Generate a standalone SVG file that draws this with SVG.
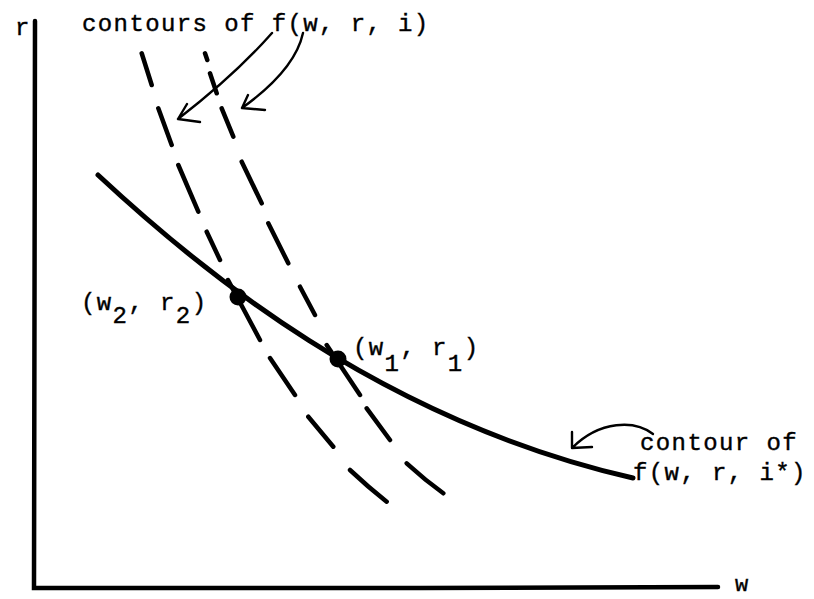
<svg xmlns="http://www.w3.org/2000/svg" width="814" height="599" viewBox="0 0 814 599">
<style>
.t{font-family:"Liberation Mono","Courier New",monospace;font-size:24px;letter-spacing:1.4px;fill:#000;stroke:#000;stroke-width:0.4}
.ax{fill:none;stroke:#000;stroke-width:4.5;stroke-linecap:round}
.dash{fill:none;stroke:#000;stroke-width:4.5;stroke-linecap:round}
.solid{fill:none;stroke:#000;stroke-width:5;stroke-linecap:round}
.thin{fill:none;stroke:#000;stroke-width:2.4;stroke-linecap:round;stroke-linejoin:round}
</style>
<rect width="814" height="599" fill="#fff"/>
<g id="axes">
<path class="ax" d="M35,21 L34,588 L420,588 L718,587"/>
<text class="t" x="15" y="35">r</text>
<text class="t" x="735" y="591" style="font-size:22px">w</text>
</g>
<g id="connectors">
<path class="dash" d="M141.7,53.3 L151.7,85 M158.3,108.3 L171.7,145 M178.3,165 L198.3,211.7 M206.7,231.7 L220,260 M228,280 L260,340 M270,358 L295,395 M308.3,416.7 L333.3,446.7 M350,470 Q368,487 386.7,501.7"/>
<path class="dash" d="M205,53.3 L207.3,60 M210,73.3 L216.7,93.3 M221.7,108.3 L233.3,136.7 M241.7,161.7 L261.7,203.3 M268.3,223.3 L288.3,263.3 M300,286.7 L315,315 M326.7,345 L360,395 M366.7,408.3 L390,440 M406.7,463.3 Q425,480 443.3,493.3"/>
<path class="solid" d="M98,175 C200,270 380,420 633,478"/>
<path class="thin" d="M272,33 Q235,75 178,119 M187,104 L178,119 L200,122"/>
<path class="thin" d="M303,33 Q295,70 242,108 M248,95 L242,108 L265,110"/>
<path class="thin" d="M653,434 C635,420 600,420 572,448 M572,432 L572,448 L592,447"/>
</g>
<g id="title">
<text class="t" x="82" y="31">contours of f(w, r, i)</text>
</g>
<g id="point2">
<circle cx="238" cy="297" r="8.5" fill="#000"/>
<text class="t" x="81" y="310">(w<tspan dy="13">2</tspan><tspan dy="-13">, r</tspan><tspan dy="13">2</tspan><tspan dy="-13">)</tspan></text>
</g>
<g id="point1">
<circle cx="338" cy="359" r="8.5" fill="#000"/>
<text class="t" x="353" y="355">(w<tspan dy="16">1</tspan><tspan dy="-16">, r</tspan><tspan dy="16">1</tspan><tspan dy="-16">)</tspan></text>
</g>
<g id="label-istar">
<text class="t" x="640" y="450">contour of</text>
<text class="t" x="633" y="480">f(w, r, i*)</text>
</g>
</svg>
